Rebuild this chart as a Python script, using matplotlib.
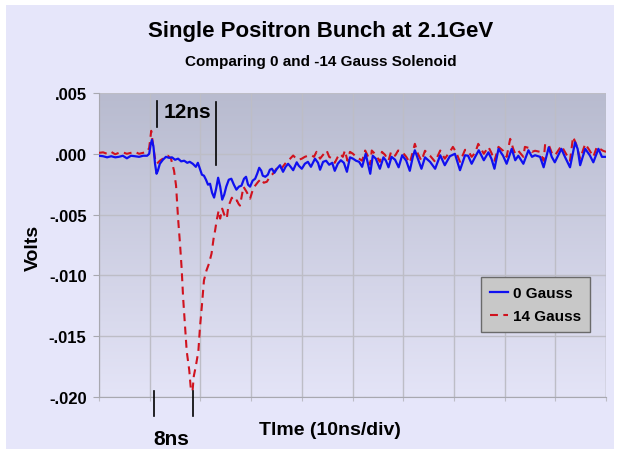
import matplotlib
matplotlib.use("Agg")
import matplotlib.pyplot as plt
import numpy as np
from matplotlib.ticker import FuncFormatter, MultipleLocator
from matplotlib.patches import Rectangle

plt.rcParams['font.family'] = ['Liberation Sans', 'DejaVu Sans']
plt.rcParams['font.weight'] = 'bold'

title = "Single Positron Bunch at 2.1GeV"
subtitle = "Comparing 0 and -14 Gauss Solenoid"
xlabel = "Tlme (10ns/div)"
ylabel = "Volts"
series_names = ["0 Gauss", "14 Gauss"]

# time in ns, signal in volts
t_blue = [0, 0.8, 1.6, 2.4, 3.2, 3.9, 4.7, 5.5, 6.3, 7.1, 7.9, 8.7, 9.5, 9.9, 10.2, 10.45, 10.75,
          11.05, 11.35, 11.6, 12.0, 12.6, 13.2, 13.8, 14.4, 15.0, 15.6, 16.2, 16.8, 17.4, 17.9, 18.5,
          19.1, 19.5, 19.9, 20.3, 20.7, 21.1, 21.5, 21.9, 22.3, 22.7, 23.1, 23.5, 23.9, 24.3, 24.7,
          25.1, 25.6, 26.1, 26.6, 27.1, 27.6, 28.1, 28.6, 29.0, 29.4, 29.8, 30.3, 30.8, 31.2, 31.6,
          32.0, 32.3, 32.8, 33.3, 33.7, 34.1, 34.6, 35.1, 35.7, 36.3, 36.8, 37.3, 37.8, 38.3, 39.0,
          39.4, 40.0, 40.6, 41.2, 41.8, 42.6, 43.2, 43.6, 44.2, 44.8, 45.4, 46.0, 46.5, 47.1, 47.7,
          48.3, 48.9, 49.5, 50.1, 50.7, 51.3, 51.9, 52.6, 53.0, 53.5, 54.0, 54.6, 55.4, 56.1, 56.6,
          57.1, 57.7, 58.4, 59.1, 59.8, 60.6, 61.3, 61.9, 62.3, 62.9, 63.6, 64.3, 65.3, 66.3, 67.3,
          68.2, 69.2, 70.2, 71.2, 72.2, 72.8, 73.5, 74.2, 74.9, 75.9, 76.8, 77.4, 78.0, 78.8, 79.7,
          80.4, 81.4, 82.1, 82.7, 83.7, 84.7, 85.4, 86.0, 87.0, 87.7, 88.7, 89.3, 89.9, 91.2, 91.9,
          92.9, 93.9, 94.4, 94.9, 95.9, 96.8, 97.5, 98.5, 99.2, 100]
v_blue = [-0.00016, -0.0002, -0.00029, -0.0002, -0.00029, -0.00025, -0.00016, -0.00037, -0.00016,
          -0.0002, -0.00025, -0.00016, -0.00016, 0.0, 0.0008, 0.00115, 0.00057,
          -0.00082, -0.00164, -0.0014, -0.00082, -0.00049, -0.00025, -0.00033, -0.00029, -0.00049,
          -0.0004, -0.00062, -0.00057, -0.00074, -0.00066, -0.00082,
          -0.00107, -0.00074, -0.00123, -0.00172, -0.0018, -0.00213, -0.00254, -0.00246, -0.0032,
          -0.0036, -0.00287, -0.00197, -0.0027, -0.00377, -0.00336,
          -0.0027, -0.00213, -0.00205, -0.00254, -0.00295, -0.0027, -0.00262, -0.00205, -0.00189,
          -0.00254, -0.0027, -0.00221, -0.00205, -0.00164, -0.00115,
          -0.00139, -0.0018, -0.00189, -0.00172, -0.00131, -0.00123, -0.00156, -0.00123, -0.00094,
          -0.00148, -0.00107, -0.00082, -0.00107, -0.00135, -0.0007,
          -0.00098, -0.00123, -0.00082, -0.00066, -0.00107, -0.0004, -0.00074, -0.00131, -0.00066,
          -0.00057, -0.0009, -0.00074, -0.0014, -0.00082, -0.00053,
          -0.00074, -0.00148, -0.00029, -0.0004, -0.00057, -0.00066, -0.00107, 0.0, -0.00074,
          -0.00164, -0.00016, -0.0004, -0.00123, -0.00029, -0.00057,
          -0.00111, -0.00025, -0.00049, -0.00111, -0.00012, -0.00057, -0.0014, -0.00025, 0.00029,
          -0.0004, -0.00123, -0.00029, -0.00066, -0.00123, -0.00012,
          -0.00094, -0.0002, 0.0, -0.00135, -0.00012, -0.00016, -0.00082, -0.00025, 0.00029,
          -0.00053, 0.00012, -0.0004, -0.00123, 0.00041, -0.00016,
          -0.00082, 0.00041, -0.00053, -0.00016, -0.00082, 0.00029, -0.00025, -0.00012, -0.00025,
          -0.00111, 0.00053, -0.00025, -0.0007, 0.00041, -0.00025,
          -0.00111, 0.00094, 0.00041, -0.00094, 0.00041, -0.00012, -0.0007, 0.00041, -0.00025, -0.00025]

t_red = [0, 0.8, 1.6, 2.4, 3.2, 3.9, 4.7, 5.5, 6.3, 7.1, 7.9, 8.7, 9.5, 9.9, 10.3, 10.65, 11.05,
         11.4, 12.0, 12.6, 13.2, 13.6, 14.2, 14.8, 15.2, 15.6, 16.0, 16.3, 16.6, 17.0, 17.3, 17.8,
         18.15, 18.45, 18.7, 19.1, 19.6, 19.9, 20.3, 20.7, 21.2, 21.7, 22.2, 22.6, 22.9, 23.2, 23.6,
         23.9, 24.3, 24.7, 25.2, 25.5, 26.2, 26.6, 27.2, 27.5, 27.8, 28.5, 29.1, 29.8, 30.4, 30.8,
         31.4, 32.0, 32.5, 33.1, 33.7, 34.3, 35.0, 35.7, 36.4, 37.0, 37.7, 38.3, 38.9, 39.4, 40.0,
         40.6, 41.2, 42.0, 42.4, 42.9, 43.6, 44.2, 44.9, 45.4, 46.0, 46.5, 47.1, 47.5, 48.1, 48.5,
         49.0, 49.5, 50.1, 50.7, 51.3, 51.9, 52.5, 53.1, 53.5, 53.8, 54.6, 55.4, 55.8, 56.4, 57.1,
         57.6, 58.4, 59.0, 59.8, 60.6, 61.3, 61.9, 62.3, 62.9, 63.6, 64.3, 65.3, 66.3, 67.3, 68.2,
         69.2, 69.8, 70.4, 71.2, 72.2, 72.8, 73.5, 74.2, 74.8, 75.9, 76.8, 77.4, 78.0, 78.8, 79.7,
         80.4, 81.1, 81.7, 82.1, 82.7, 83.7, 84.0, 84.7, 85.4, 86.0, 87.0, 87.7, 88.0, 88.7, 89.3,
         89.9, 91.2, 91.9, 92.9, 93.5, 94.1, 94.9, 95.9, 96.8, 97.5, 98.2, 98.8, 99.4, 100]
v_red = [0.00008, 0.00012, 0.0, 0.00016, -0.00004, 0.00008, 0.00012, 0.0, 0.00008, 0.00016, 0.0,
         0.00008, 0.00016, 0.00049, 0.00189, 0.00074, -0.0004,
         -0.00082, -0.00057, -0.0004, -0.00016, -0.00016, -0.0004, -0.00139, -0.00262, -0.00533,
         -0.00754, -0.00943, -0.01189, -0.01435, -0.01623, -0.01779,
         -0.0195, -0.0195, -0.01828, -0.01746, -0.01623, -0.01435, -0.01246, -0.01041, -0.00959,
         -0.00902, -0.0082, -0.00697, -0.00631, -0.00549, -0.00467,
         -0.00533, -0.00451, -0.005, -0.00533, -0.00435, -0.00361, -0.00394, -0.00383, -0.0041,
         -0.00426, -0.00271, -0.00312, -0.00369, -0.00287, -0.00262,
         -0.0023, -0.00205, -0.00238, -0.0023, -0.00189, -0.00164, -0.00123, -0.00139, -0.00098,
         -0.00066, -0.0004, -0.00014, -0.0004, -0.00049, -0.0004,
         -0.00025, -0.00016, -0.00014, -0.00025, 0.00016, -0.0004, -0.00008, 0.00027, -0.00025,
         -0.0004, -0.00074, -0.00025, 0.0, -0.00025, 0.00027,
         -0.00057, 0.00016, 0.0, -0.00025, -0.0004, -0.00057, 0.00027, -0.00025, -0.0009, 0.00027,
         -0.00008, -0.00066, 0.00016, -0.00008, -0.00057,
         0.00016, -0.00016, 0.00027, 0.00016, -0.00025, -0.00074, 0.00016, 0.00082, 0.0, -0.00057,
         0.00025, -0.00016, -0.00066, 0.00027, -0.0004,
         0.00016, 0.00057, 0.00016, -0.00066, 0.00033, 0.00025, -0.00025, 0.00008, 0.00082, 0.0,
         0.00057, 0.00008, -0.00057, 0.00057, 0.00025,
         -0.00025, 0.00123, 0.00041, 0.0, 0.00025, -0.00025, 0.00057, 0.00049, 0.00016, 0.00025,
         0.00016, -0.00057, 0.00082, 0.00074, 0.00008,
         -0.00016, 0.00066, 0.00016, -0.00057, 0.00139, 0.00082, -0.0004, 0.00082, 0.00025,
         -0.00025, 0.00057, 0.00041, 0.00025, 0.00016]

bracket_12ns = [11.5, 23.1]   # ns, marker positions
bracket_8ns = [10.85, 18.5]

W, H = 620, 456
fig = plt.figure(figsize=(W / 100, H / 100), dpi=100, facecolor='white')
fig.patches.append(Rectangle((6 / W, 6 / H), (W - 12) / W, (H - 12) / H, transform=fig.transFigure,
                             facecolor='#E6E6FA', edgecolor='none', zorder=-10))

ax = fig.add_axes([99 / W, 1 - 398 / H, 507 / W, 304 / H])
ax.set_xlim(0, 100)
ax.set_ylim(-0.020, 0.005)

# gradient background
grad = np.linspace(0, 1, 256).reshape(-1, 1)
top_c = np.array([184, 187, 207]) / 255
bot_c = np.array([228, 228, 247]) / 255
img = top_c[None, None, :] * (1 - grad[:, :, None]) + bot_c[None, None, :] * grad[:, :, None]
ax.imshow(img, extent=[0, 100, -0.020, 0.005], aspect='auto', zorder=0, origin='upper')
ax.set_facecolor('none')

ax.xaxis.set_major_locator(MultipleLocator(10))
ax.yaxis.set_major_locator(MultipleLocator(0.005))
ax.grid(True, color='#BDBDC6', linewidth=1.0, zorder=1)
ax.set_axisbelow(True)
for s in ['top', 'right']:
    ax.spines[s].set_visible(False)
for s in ['left', 'bottom']:
    ax.spines[s].set_color('#A8A8B0')
ax.axvline(100, color='#BDBDC6', lw=1.0, zorder=1)

def fmt(v, pos):
    s = f"{v:.3f}"
    if s.startswith("-0"):
        s = "-" + s[2:]
    elif s.startswith("0"):
        s = s[1:]
    if s == "-.000":
        s = ".000"
    return s

ax.yaxis.set_major_formatter(FuncFormatter(fmt))
ax.tick_params(axis='y', length=4, color='#A8A8B0', labelsize=12, pad=5)
ax.tick_params(axis='x', length=3, color='#BDBDC6', labelbottom=False)
for lab in ax.get_yticklabels():
    lab.set_fontweight('bold')

ax.plot(t_red, v_red, color='#D0121E', lw=1.5, linestyle=(0, (3.8, 2.6)), zorder=3, label=series_names[1])
ax.plot(t_blue, v_blue, color='#1010F0', lw=1.6, zorder=4, label=series_names[0])

handles, labels = ax.get_legend_handles_labels()
leg = ax.legend(handles[::-1], labels[::-1], loc='upper left', bbox_to_anchor=(0.753, 0.395),
                frameon=True, fancybox=False, fontsize=11, handlelength=1.2, handletextpad=0.3,
                borderpad=0.6, labelspacing=0.6, borderaxespad=0)
leg.get_frame().set_facecolor('#C8C8C8')
leg.get_frame().set_edgecolor('#6A6A6A')
leg.get_frame().set_alpha(1)
for tx in leg.get_texts():
    tx.set_fontweight('bold')

# annotations
ax.plot([bracket_12ns[0]] * 2, [0.00437, 0.00219], color='black', lw=1.2, zorder=5)
ax.plot([bracket_12ns[1]] * 2, [0.00426, -0.0009], color='black', lw=1.2, zorder=5)
ax.text(17.4, 0.00344, "12ns", fontsize=15, fontweight='bold', ha='center', va='center', zorder=5)
for x in bracket_8ns:
    ax.plot([x, x], [-0.0195, -0.02157], color='black', lw=1.2, clip_on=False, zorder=5)
ax.text(14.2, -0.02345, "8ns", fontsize=15, fontweight='bold', ha='center', va='center')

fig.text(321 / W, 1 - 32 / H, title, fontsize=16, fontweight='bold', ha='center', va='center')
fig.text(321 / W, 1 - 62 / H, subtitle, fontsize=11, fontweight='bold', ha='center', va='center')
fig.text(330 / W, 1 - 431 / H, xlabel, fontsize=14, fontweight='bold', ha='center', va='center')
fig.text(33 / W, 1 - 248 / H, ylabel, fontsize=14, fontweight='bold', ha='center', va='center',
         rotation=90)

fig.savefig("out.png", dpi=100, facecolor='white')
